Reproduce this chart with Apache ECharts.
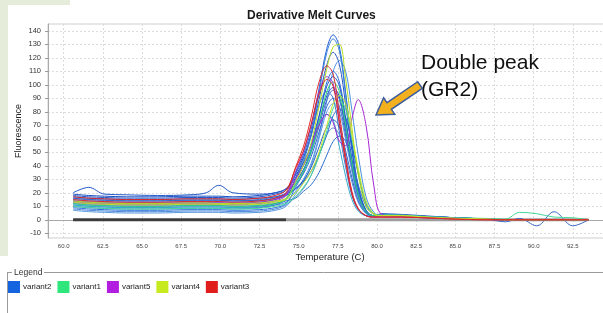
<!DOCTYPE html>
<html>
<head>
<meta charset="utf-8">
<script src="https://cdn.jsdelivr.net/npm/echarts@6/dist/echarts.min.js"></script>
<style>
  html, body { margin: 0; padding: 0; background: #fff; }
  #chart { width: 603px; height: 313px; }
</style>
</head>
<body>
<div id="chart"></div>
<script>
// temperature points shared by every curve (C)
var temps = [60.6, 61.6, 62.6, 64, 66, 68, 69.1, 69.9, 70.8, 72.5, 73.5, 74.2,
    74.8, 75.3, 75.8, 76.3, 76.8, 77.2, 77.6, 78.0, 78.4, 78.8, 79.3, 79.8, 80.3,
    81.5, 83, 85, 87, 88.2, 89.1, 90.2, 91.3, 92.5, 93.5];

// variant2 (blue)
var variant2 = [
    [16,15,14.5,14,14,14.5,14.5,14.5,14,14.5,16,19, 35,48,67,97,127,137,128,94,56,25,7,3,3.5,3,2,1.5,0.5, 0,0,0,0,0,0],
    [13,12,11.5,11,11,11.5,11.5,11.5,11,11.5,13,16, 31,45,64,94,124,134,125,92,55,24,7,3,4,3.5,2.5,1.5,0.5, 0,0,0,0,0,0],
    [18,17,16.5,16,16,16.5,16.5,16.5,16,17,19,22, 34,46,63,89,115,124,115,85,51,23,7,3,4.5,4,3,1.5,0.5, 0,0,0,0,0,0],
    [11,10,9.5,9,9,9.5,9.5,9.5,9,9.5,11,13, 21,30,42,62,88,110,118,110,81,48,17,5.5,3,3,2,1,0.5, 0,0,0,0,0,0],
    [9,8,7.5,7,7,7.5,7.5,7.5,7,7.5,9,12, 24,35,52,76,102,110,102,75,45,20,6,3,3.5,3,2,1,0.5, 0,0,0,0,0,0],
    [19,18,17.5,17,17,17.5,17.5,17.5,17,18,20,23, 31,40,52,72,92,98,91,67,40,18,6,3,4,3.5,2.5,1.5,0.5, 0,0,0,0,0,0],
    [10,9,8.5,8,8,8.5,8.5,8.5,8,9,11,15, 30,43,62,85,95,90,65,39,18,7.5,3,2.5,3,2.5,2,1,0.5, 0,0,0,0,0,0],
    [15,14,13.5,13,13,13.5,13.5,13.5,13,14,16,19, 26,34,47,65,84,90,84,62,37,17,5.5,3,4,3.5,2.5,1.5,0.5, 0,0,0,0,0,0],
    [7,6,5.5,5,5,5.5,5.5,5.5,5,5.5,7,10, 19,28,40,60,80,86,80,59,36,16,5.5,2.5,3,2.5,2,1,0.5, 0,0,0,0,0,0],
    [17,16,15.5,15,15,15.5,15.5,15.5,15,16,17,19, 23,28,36,48,63,77,82,76,56,34,12,4.5,3.5,3.5,2.5,1.5,0.5, 0,0,0,0,0,0],
    [11,10,9.5,9,9,9.5,9.5,9.5,9,10,12,16, 27,37,52,70,78,74,54,32,15,6.5,3,2.5,3,2.5,2,1,0.5, 0,0,0,0,0,0],
    [14,13,12.5,12,12,12.5,12.5,12.5,12,13,15,18, 23,29,39,54,69,74,69,51,31,14,5,3,3.5,3,2,1,0.5, 0,0,0,0,0,0],
    [8,7,6.5,6,6,6.5,6.5,6.5,6,6.5,8,11, 17,23,33,48,63,68,63,47,28,13,4.5,2.5,3,2.5,2,1,0.5, 0,0,0,0,0,0],
    [12,11,10.5,10,10,10.5,10.5,10.5,10,10.5,12,14, 16,21,26,35,48,58,62,58,43,26,10,4,3,3,2,1,0.5, 0,0,0,0,0,0],
    [20,24,19,18.5,18,18.5,20,25.5,20,19,20,23, 33,42,56,77,99,106,99,73,44,20,6,3,4,3.5,2.5,1.5,0.5, 0,0,0,0,0,0],
    [16,15,14.5,14,14,14.5,14.5,14.5,14,15,17,20, 28,37,50,69,89,96,89,66,40,18,6,3,4,3.5,2.5,1.5,0.5, -1.5,1,-4.5,6,-4.5,0]
];
// variant1 (green)
var variant1 = [
    [12,11,10.5,10,10,10.5,10.5,10.5,10,10.5,12,15, 25.5,35.5,50,72,95,102,95,70,42,19,6,3,3.5,3,2,1,0.5, 0,0,0,0,0,0],
    [10,9,8.5,8,8,8.5,8.5,8.5,8,8.5,10,12, 17,24,33,47,66,82.5,88,82,60,36,13,4.5,3.5,3.5,2.5,1.5,1, 0.5,5.5,4.5,2,1.5,0]
];
// variant5 (purple) - first one is the double peak
var variant5 = [
    [14,13,12.5,12,12,12.5,12.5,12.5,12,13,15,19, 30,40,55,70,78,72,58,55,75,89,70,25,4,2.5,1.5,1,0.5, 0,0,0,0,0,0],
    [13,12,11.5,11,11,11.5,11.5,11.5,11,12,14,18, 35.5,50,70,95,106,101,73,44,20,8,3,2,2,2,1.5,1,0.5, 0,0,0,0,0,0]
];
// variant4 (yellow green)
var variant4 = [
    [14,13,12.5,12,12,12.5,12.5,12,12,12.5,14,16, 28,40,57,84,112,128,130,104,68,34,10,4,3,3,2,1,0.5, 0,0,0,0,0,0],
    [13,12,11.5,11,11,11.5,11.5,11.5,11,11.5,13,15, 20,27,36,50,70,86,92,86,63,38,14,4.5,3,3,2,1,0.5, 0,0,0,0,0,0]
];
// variant3 (red)
var variant3 = [
    [15,14,13.5,13,13,13.5,13.5,13.5,13,14,16,20, 39,54,76,102,114,108,78,47,21,8.5,3,2,2,2,1.5,0.5,0, 0,0,0,0,0,0],
    [17,16,15.5,15,15,15.5,15.5,15.5,15,16,18,22, 38,51,71,93,104,99,71,43,19,8,3,2,2,2,1.5,0.5,0, 0,0,0,0,0,0]
];
// flat no-template wells lying on zero
var blankTemps = [60.6, 74.2, 93.5];
var blankValues = [0, 0, 0];

var xTicks = [60, 62.5, 65, 67.5, 70, 72.5, 75, 77.5, 80, 82.5, 85, 87.5, 90, 92.5, 95];
var yTicks = [-10, 0, 10, 20, 30, 40, 50, 60, 70, 80, 90, 100, 110, 120, 130, 140];
var legendNames = ['variant2', 'variant1', 'variant5', 'variant4', 'variant3'];

// styling
var legendColors = ['#1464e0', '#2ee67c', '#b21ee0', '#c6ea1e', '#e01e1e'];
var shades = {
    variant2: ['#1f5fd6', '#3a86d8', '#2456c8', '#4a90e2', '#2a6ee0', '#1a4fc0', '#3c7ad0', '#2f66d4',
               '#5a9ae0', '#1e5ad0', '#33a9d0', '#2a62c8', '#4d88d8', '#3070d0', '#2258c8', '#3a6ac8'],
    variant1: ['#2ed47a', '#46d898'],
    variant5: ['#a826d6', '#9a3ad0'],
    variant4: ['#b4de1e', '#c4e42a'],
    variant3: ['#e03030', '#d82828']
};
var FONT = 'Liberation Sans, Arial, sans-serif';

function toPoints(vals) {
    return temps.map(function (t, i) { return [t, vals[i]]; });
}

var groups = { variant2: variant2, variant1: variant1, variant5: variant5, variant4: variant4, variant3: variant3 };
var series = [];

series.push({
    type: 'line', name: 'blank', silent: true, showSymbol: false,
    data: [[blankTemps[0], blankValues[0]], [blankTemps[1], blankValues[1]]],
    lineStyle: { color: '#3c3c3c', width: 3 }, z: 1
});
series.push({
    type: 'line', name: 'blank2', silent: true, showSymbol: false,
    data: [[blankTemps[1], blankValues[1]], [blankTemps[2], blankValues[2]]],
    lineStyle: { color: '#9c9c9c', width: 3 }, z: 1
});

legendNames.forEach(function (name) {
    groups[name].forEach(function (vals, k) {
        var c = shades[name][k % shades[name].length];
        series.push({
            type: 'line', name: name, silent: true, showSymbol: false,
            smooth: 0.35,
            data: toPoints(vals),
            lineStyle: { color: c, width: 1 },
            itemStyle: { color: c },
            z: 2
        });
    });
});

var chart = echarts.init(document.getElementById('chart'));
chart.setOption({
    animation: false,
    backgroundColor: '#fff',
    title: {
        text: 'Derivative Melt Curves',
        left: 242, top: 5,
        textStyle: { fontFamily: FONT, fontSize: 12, fontWeight: 'bold', color: '#1a1a1a' }
    },
    grid: { left: 48, right: -9, top: 24, bottom: 75, outerBoundsMode: 'none', containLabel: false,
            show: true, borderColor: '#cfcfcf', borderWidth: 1 },
    xAxis: {
        type: 'value', min: 59, max: 95,
        name: 'Temperature (C)', nameLocation: 'middle', nameGap: 14, nameMoveOverlap: false,
        nameTextStyle: { fontFamily: FONT, fontSize: 9.5, color: '#222' },
        axisLine: { lineStyle: { color: '#a8a8a8' } },
        axisTick: { show: false, customValues: xTicks },
        axisLabel: {
            customValues: xTicks, fontFamily: FONT, fontSize: 6, color: '#444', margin: 5,
            formatter: function (v) { return v.toFixed(1); }
        },
        splitLine: { show: true, lineStyle: { color: '#dcdcdc', type: [2, 2] } }
    },
    yAxis: {
        type: 'value', min: -13.5, max: 145,
        name: 'Fluorescence', nameLocation: 'middle', nameGap: 25, nameMoveOverlap: false,
        nameTextStyle: { fontFamily: FONT, fontSize: 9, color: '#222' },
        axisLine: { show: true, lineStyle: { color: '#a8a8a8' } },
        axisTick: { show: true, length: 3, customValues: yTicks, lineStyle: { color: '#999' } },
        axisLabel: { customValues: yTicks, fontFamily: FONT, fontSize: 7.5, color: '#333', margin: 7 },
        splitLine: { show: true, lineStyle: { color: '#dcdcdc', type: [2, 2] } }
    },
    legend: {
        left: 8, top: 281, padding: 0, icon: 'rect', itemWidth: 12, itemHeight: 12, itemGap: 6,
        selectedMode: false,
        textStyle: { fontFamily: FONT, fontSize: 8, color: '#222', padding: [0, 0, 0, -2] },
        data: legendNames.map(function (n, i) {
            return { name: n, itemStyle: { color: legendColors[i] } };
        })
    },
    graphic: [
        { type: 'rect', z: -10, shape: { x: 0, y: 0, width: 8, height: 256 }, style: { fill: '#e5edda' } },
        { type: 'rect', z: -10, shape: { x: 0, y: 0, width: 70, height: 5 }, style: { fill: '#e5edda' } },
        { type: 'line', shape: { x1: 7, y1: 272.5, x2: 12, y2: 272.5 }, style: { stroke: '#9a9a9a', lineWidth: 1 } },
        { type: 'line', shape: { x1: 44, y1: 272.5, x2: 603, y2: 272.5 }, style: { stroke: '#9a9a9a', lineWidth: 1 } },
        { type: 'line', shape: { x1: 7.5, y1: 272.5, x2: 7.5, y2: 313 }, style: { stroke: '#9a9a9a', lineWidth: 1 } },
        { type: 'text', x: 14, y: 273, style: { text: 'Legend', fill: '#333', font: '8.5px ' + FONT, verticalAlign: 'middle' } },
        { type: 'text', x: 421, y: 50, z: 20,
          style: { text: 'Double peak\n(GR2)', fill: '#111', font: '21px ' + FONT, lineHeight: 27 } },
        { type: 'polygon', z: 20,
          shape: { points: [[422.3, 88.3], [391.4, 109.3], [394.8, 114.3], [376, 115], [383.6, 97.8], [387, 102.7], [417.7, 81.7]] },
          style: { fill: '#f2b01e', stroke: '#3d5e9c', lineWidth: 1.5 } }
    ],
    series: series
});
</script>
</body>
</html>
